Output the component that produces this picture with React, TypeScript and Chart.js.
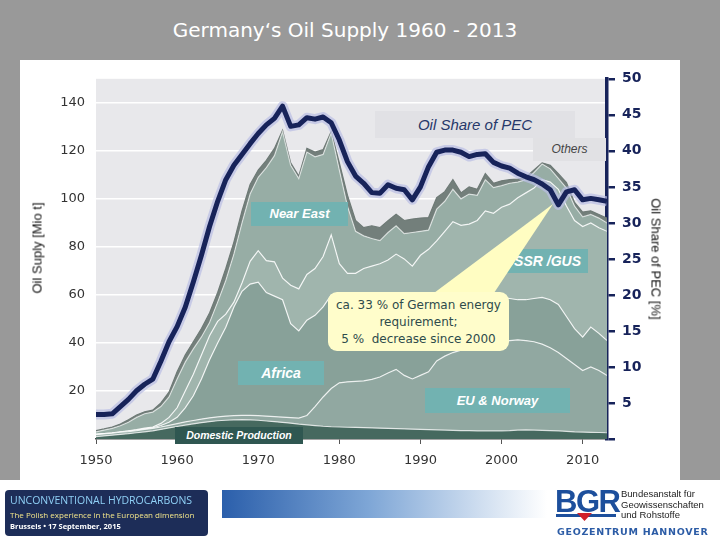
import React, { useEffect, useRef } from "react";
import { Chart, registerables } from "chart.js";

Chart.register(...registerables);

// ---- data (Mio t, cumulative layer tops) ----
const years = [
  1950, 1951, 1952, 1953, 1954, 1955, 1956, 1957, 1958, 1959,
  1960, 1961, 1962, 1963, 1964, 1965, 1966, 1967, 1968, 1969,
  1970, 1971, 1972, 1973, 1974, 1975, 1976, 1977, 1978, 1979,
  1980, 1981, 1982, 1983, 1984, 1985, 1986, 1987, 1988, 1989,
  1990, 1991, 1992, 1993, 1994, 1995, 1996, 1997, 1998, 1999,
  2000, 2001, 2002, 2003, 2004, 2005, 2006, 2007, 2008, 2009,
  2010, 2011, 2012, 2013,
];

const domesticProduction = [
  1.0, 1.3, 1.6, 1.9, 2.2, 2.6, 3.0, 3.4, 4.0, 4.6,
  5.2, 5.8, 6.3, 6.8, 7.2, 7.6, 7.8, 8.0, 8.1, 8.0,
  7.8, 7.5, 7.2, 6.9, 6.6, 6.2, 5.9, 5.6, 5.3, 5.1,
  5.0, 4.9, 4.8, 4.7, 4.6, 4.5, 4.4, 4.3, 4.2, 4.1,
  4.0, 3.9, 3.8, 3.7, 3.6, 3.5, 3.5, 3.4, 3.4, 3.4,
  3.4, 3.5, 3.7, 3.8, 3.7, 3.6, 3.5, 3.4, 3.2, 3.0,
  2.9, 2.8, 2.7, 2.6,
];

const euNorwayTop = [
  1.8, 2.1, 2.4, 2.8, 3.1, 3.5, 4.0, 4.4, 5.0, 5.7,
  6.4, 7.1, 7.7, 8.3, 8.8, 9.2, 9.5, 9.7, 9.8, 9.8,
  9.7, 9.5, 9.3, 9.1, 8.9, 8.7, 9.8, 13.5, 17.5, 21.0,
  23.4, 23.8, 24.0, 24.2, 24.8, 25.8, 27.5, 29.0, 26.5, 25.0,
  26.5, 28.0, 32.5, 34.5, 36.0, 37.0, 39.0, 40.0, 40.2, 40.5,
  40.6, 41.0, 41.3, 41.0, 40.5, 39.5, 38.0, 36.0, 33.5, 31.0,
  28.5, 30.0, 28.5, 26.5,
];

const africaTop = [
  1.9, 2.2, 2.5, 2.9, 3.3, 3.7, 4.2, 4.7, 5.6, 7.0,
  9.0, 13, 18, 25, 33, 40, 46.5, 55, 61.5, 64.5,
  65.3, 61, 59.5, 58, 48, 45, 49.5, 51.5, 55, 60,
  59, 57, 55, 53, 52, 52, 53, 54, 53, 52,
  54, 56, 57, 58, 58, 58, 59, 60, 60, 59,
  59, 58.5, 58, 58, 58.5, 59, 58, 56, 51, 46,
  42.4, 46.6, 44, 41,
];

const ussrGusTop = [
  2.0, 2.3, 2.6, 3.0, 3.4, 3.9, 4.5, 5.0, 6.5, 9.0,
  13, 20, 27, 35, 43, 49, 52, 57, 65, 74,
  78.4, 74.3, 73.8, 67, 64, 62.5, 68.5, 71, 76, 85,
  73, 69, 69, 71, 72, 73, 74.5, 77, 75, 72,
  76.5, 79, 82.5, 86.5, 90.5, 89, 89.5, 91, 95, 94,
  96.5, 97.8, 100.5, 102.5, 104.5, 108, 107, 104, 97, 91,
  88.5, 90, 88, 86.5,
];

const nearEastTop = [
  3.0, 3.7, 4.4, 5.5, 7.0, 9.0, 10.5, 11.2, 13.5, 17.5,
  25, 32, 37.5, 42.5, 48.5, 57, 66, 77, 90, 102,
  109, 113, 118, 128, 114, 108.5, 119.5, 117.5, 118.5, 127.5,
  112, 97, 86.5, 84.6, 83.5, 82.6, 86, 88.8, 85.5, 86,
  86.5, 87, 95.7, 99, 104, 100, 102, 101.5, 108, 104.7,
  105.5, 106.5, 107, 108, 111, 114.5, 112.5, 108.5, 104.5, 97,
  92.5, 93.5, 92, 90,
];

const othersTop = [
  3.5, 4.2, 5.0, 6.2, 8.0, 10, 11.3, 12, 15, 19.5,
  28, 35, 40.5, 46, 52.5, 61, 71, 82, 95, 106,
  112, 116, 121, 128.5, 115, 109.5, 121, 119.5, 120.5, 128,
  115, 101.5, 91, 88, 88.8, 88, 90.9, 93.6, 91, 91.6,
  92, 92.2, 100.5, 103, 108, 102.5, 105, 104, 110.5, 106.5,
  107.5, 108, 108.2, 109, 112, 115, 114, 110.5, 106.8, 98.5,
  94.5, 95, 93.5, 92,
];

// Oil share of primary energy consumption (%), right axis
const oilSharePEC = [
  3.4, 3.4, 3.5, 4.5, 5.5, 6.7, 7.6, 8.3, 10.8, 13.5,
  15.6, 18.3, 21.8, 25.5, 29.5, 33, 36, 38, 39.5, 41,
  42.4, 43.6, 44.5, 46.2, 43.4, 43.6, 44.6, 44.4, 44.7, 43.9,
  41.5, 38.5, 36.5, 35.5, 34.2, 34.1, 35.3, 34.8, 34.6, 33.2,
  35.0, 37.8, 39.8, 40.1, 40.1, 39.8, 39.2, 39.5, 39.6, 38.4,
  37.9, 37.6, 36.9, 36.4, 36.0, 35.4, 34.6, 32.5, 34.3, 34.6,
  33.2, 33.4, 33.2, 33.0,
];

const NAVY = "#17235a";

const plotBg = {
  id: "plotBg",
  beforeDraw(chart: any) {
    const { ctx, chartArea: a } = chart;
    ctx.save();
    ctx.fillStyle = "#e8e8eb";
    ctx.fillRect(a.left, a.top, a.right - a.left, a.bottom - a.top);
    ctx.restore();
  },
};

function TealBox(props: { left: number; top: number; w: number; h: number; text: string; bg?: string; size?: number }) {
  return (
    <div
      style={{
        position: "absolute",
        left: props.left,
        top: props.top,
        width: props.w,
        height: props.h,
        background: props.bg || "#72b2b1",
        color: "#ffffff",
        fontFamily: "'Liberation Sans', Arial, sans-serif",
        fontStyle: "italic",
        fontWeight: "bold",
        fontSize: props.size || 13,
        lineHeight: props.h + "px",
        textAlign: "center",
        whiteSpace: "nowrap",
      }}
    >
      {props.text}
    </div>
  );
}

export default function App() {
  const ref = useRef<HTMLCanvasElement>(null);

  useEffect(() => {
    if (!ref.current) return;
    const pts = (arr: number[]) => years.map((x, i) => ({ x, y: arr[i] }));
    const area = (label: string, arr: number[], bg: string, border: string, fill: any) => ({
      label,
      data: pts(arr),
      backgroundColor: bg,
      borderColor: border,
      borderWidth: 1.2,
      fill,
      pointRadius: 0,
      tension: 0,
      yAxisID: "y",
      order: 2,
    });
    const chart = new Chart(ref.current, {
      type: "line",
      data: {
        datasets: [
          area("Domestic Production", domesticProduction, "#46695f", "rgba(255,255,255,0.75)", "origin"),
          area("EU & Norway", euNorwayTop, "#91a8a1", "rgba(255,255,255,0.8)", "-1"),
          area("Africa", africaTop, "#88a199", "rgba(255,255,255,0.85)", "-1"),
          area("USSR /GUS", ussrGusTop, "#a0b5ad", "rgba(255,255,255,0.85)", "-1"),
          area("Near East", nearEastTop, "#97ada5", "rgba(255,255,255,0.6)", "-1"),
          area("Others", othersTop, "#737f7b", "#6e7a76", "-1"),
          {
            label: "halo",
            data: pts(oilSharePEC),
            yAxisID: "y1",
            borderColor: "rgba(185,190,228,0.7)",
            borderWidth: 10,
            fill: false,
            pointRadius: 0,
            tension: 0,
            order: 1,
            borderJoinStyle: "round",
          } as any,
          {
            label: "Oil Share of PEC",
            data: pts(oilSharePEC),
            yAxisID: "y1",
            borderColor: NAVY,
            borderWidth: 5,
            fill: false,
            pointRadius: 0,
            tension: 0,
            order: 0,
            borderJoinStyle: "round",
          } as any,
        ],
      },
      options: {
        animation: false,
        responsive: false,
        layout: { padding: { top: 17, left: 0, right: 0, bottom: 0 } },
        plugins: { legend: { display: false }, tooltip: { enabled: false } },
        scales: {
          x: {
            type: "linear",
            min: 1950,
            max: 2013,
            afterFit: (s: any) => {
              s.height = 41;
            },
            ticks: {
              stepSize: 10,
              includeBounds: false,
              autoSkip: false,
              maxRotation: 0,
              callback: (v: any) => String(v),
              color: "#333",
              font: { family: "'DejaVu Sans'", size: 13 },
              padding: 9,
            },
            grid: { drawOnChartArea: false, drawTicks: true, tickLength: 5, color: "#555" },
            border: { color: "#4a4a4a", width: 1.5 },
          } as any,
          y: {
            position: "left",
            min: 0,
            max: 150,
            afterFit: (s: any) => {
              s.width = 76;
            },
            ticks: {
              stepSize: 20,
              includeBounds: false,
              callback: (v: any) => (v === 0 ? "" : String(v)),
              color: "#333",
              font: { family: "'DejaVu Sans'", size: 13 },
              padding: 11,
            },
            grid: {
              color: (c: any) => (c.tick && c.tick.value === 0 ? "rgba(0,0,0,0)" : "#ffffff"),
              lineWidth: 1.5,
              drawTicks: false,
            },
            border: { display: false },
          } as any,
          y1: {
            position: "right",
            min: 0,
            max: 50,
            afterFit: (s: any) => {
              s.width = 73;
            },
            ticks: {
              stepSize: 5,
              includeBounds: false,
              callback: (v: any) => (v === 0 ? "" : String(v)),
              color: NAVY,
              font: { family: "'DejaVu Sans'", size: 14, weight: "bold" },
              padding: 7,
            },
            grid: { drawOnChartArea: false, drawTicks: true, tickLength: 8, color: NAVY, lineWidth: 2.5 },
            border: { color: NAVY, width: 3.5 },
          } as any,
        },
      },
      plugins: [plotBg],
    });
    return () => chart.destroy();
  }, []);

  const axisTitle: any = {
    position: "absolute",
    whiteSpace: "nowrap",
    fontFamily: "'Liberation Sans', Arial, sans-serif",
    fontSize: 13,
    fontWeight: 400,
    color: "#111",
  };

  return (
    <div
      style={{
        position: "absolute",
        left: 0,
        top: 0,
        width: 720,
        height: 540,
        background: "#ffffff",
        overflow: "hidden",
        fontFamily: "'DejaVu Sans', sans-serif",
      }}
    >
      <div style={{ position: "absolute", left: 0, top: 0, width: 720, height: 480, background: "#999999" }} />
      <div
        style={{
          position: "absolute",
          left: 345,
          top: 17,
          transform: "translateX(-50%)",
          color: "#ffffff",
          fontSize: 20,
          lineHeight: "26px",
          whiteSpace: "nowrap",
          fontFamily: "'DejaVu Sans', sans-serif",
        }}
      >
        Germany‘s Oil Supply 1960 - 2013
      </div>
      <div style={{ position: "absolute", left: 20, top: 60, width: 660, height: 420, background: "#ffffff" }} />
      <canvas ref={ref} width={660} height={420} style={{ position: "absolute", left: 20, top: 60 }} />

      {/* axis titles */}
      <div style={{ ...axisTitle, left: 37, top: 248, transform: "translate(-50%,-50%) rotate(-90deg)" }}>
        Oil Suply [Mio t]
      </div>
      <div style={{ ...axisTitle, left: 656, top: 259, transform: "translate(-50%,-50%) rotate(90deg)" }}>
        Oil Share of PEC [%]
      </div>

      {/* annotation boxes */}
      <div
        style={{
          position: "absolute",
          left: 375,
          top: 111,
          width: 200,
          height: 27,
          background: "#e1e1e5",
          color: "#27386a",
          fontFamily: "'Liberation Sans', Arial, sans-serif",
          fontStyle: "italic",
          fontSize: 15,
          lineHeight: "27px",
          textAlign: "center",
        }}
      >
        Oil Share of PEC
      </div>
      <div
        style={{
          position: "absolute",
          left: 533,
          top: 138,
          width: 73,
          height: 23,
          background: "#e1e1e4",
          color: "#444",
          fontFamily: "'Liberation Sans', Arial, sans-serif",
          fontStyle: "italic",
          fontSize: 12,
          lineHeight: "23px",
          textAlign: "center",
        }}
      >
        Others
      </div>
      <TealBox left={251} top={202} w={97} h={24} text="Near East" />
      <TealBox left={497} top={249} w={91} h={24} text="USSR /GUS" size={14} />
      <TealBox left={238} top={361} w={86} h={24} text="Africa" size={14} />
      <TealBox left={425} top={388} w={145} h={25} text="EU & Norway" />
      <TealBox left={175} top={427} w={128} h={17} text="Domestic Production" bg="#2f5751" size={10.5} />

      {/* callout pointer */}
      <svg width={720} height={540} style={{ position: "absolute", left: 0, top: 0, pointerEvents: "none" }}>
        <polygon points="430,296 492,296 553,204" fill="#fffdc2" />
      </svg>
      <div
        style={{
          position: "absolute",
          left: 328,
          top: 292,
          width: 181,
          height: 59,
          background: "#fffdcb",
          borderRadius: 9,
          color: "#2e4b4b",
          fontFamily: "'DejaVu Sans', sans-serif",
          fontSize: 12,
          lineHeight: "17px",
          textAlign: "center",
          paddingTop: 5,
          boxSizing: "border-box",
          whiteSpace: "nowrap",
        }}
      >
        <div>ca. 33 % of German energy</div>
        <div>requirement;</div>
        <div>5 %&nbsp; decrease since 2000</div>
      </div>

      {/* footer */}
      <div
        style={{
          position: "absolute",
          left: 5,
          top: 490,
          width: 203,
          height: 46,
          background: "#1d2d58",
          borderRadius: 4,
          fontFamily: "'Open Sans', sans-serif",
          overflow: "hidden",
        }}
      >
        <div style={{ position: "absolute", left: 5, top: 3, fontSize: 10.5, color: "#8fd0f6", whiteSpace: "nowrap" }}>
          UNCONVENTIONAL HYDROCARBONS
        </div>
        <div style={{ position: "absolute", left: 5, top: 19, fontSize: 8, color: "#f2e58a", whiteSpace: "nowrap" }}>
          The Polish experience in the European dimension
        </div>
        <div style={{ position: "absolute", left: 5, top: 31, fontSize: 7.5, fontWeight: "bold", color: "#ffffff", whiteSpace: "nowrap" }}>
          Brussels • 17 September, 2015
        </div>
      </div>
      <div
        style={{
          position: "absolute",
          left: 222,
          top: 490,
          width: 325,
          height: 28,
          background: "linear-gradient(to right, #2b5fab, #7ea6d6 45%, #ffffff)",
        }}
      />
      <div
        style={{
          position: "absolute",
          left: 555,
          top: 486,
          fontFamily: "'Liberation Sans', Arial, sans-serif",
          fontWeight: "bold",
          fontSize: 31,
          letterSpacing: -1.5,
          color: "#1d4f9c",
          lineHeight: "32px",
        }}
      >
        BGR
      </div>
      <svg width={720} height={540} style={{ position: "absolute", left: 0, top: 0, pointerEvents: "none" }}>
        <rect x={556} y={514} width={60} height={3} fill="#1d4f9c" />
        <polygon points="577,513 592,513 584.5,521" fill="#d0202a" />
      </svg>
      <div
        style={{
          position: "absolute",
          left: 621,
          top: 489,
          fontFamily: "'Liberation Sans', Arial, sans-serif",
          fontSize: 9.5,
          lineHeight: "10.5px",
          color: "#222",
          whiteSpace: "nowrap",
        }}
      >
        <div>Bundesanstalt für</div>
        <div>Geowissenschaften</div>
        <div>und Rohstoffe</div>
      </div>
      <div
        style={{
          position: "absolute",
          left: 557,
          top: 526,
          fontFamily: "'DejaVu Sans', sans-serif",
          fontWeight: "bold",
          fontSize: 9.5,
          letterSpacing: 0.7,
          color: "#2c5ca6",
          whiteSpace: "nowrap",
        }}
      >
        GEOZENTRUM HANNOVER
      </div>
    </div>
  );
}
